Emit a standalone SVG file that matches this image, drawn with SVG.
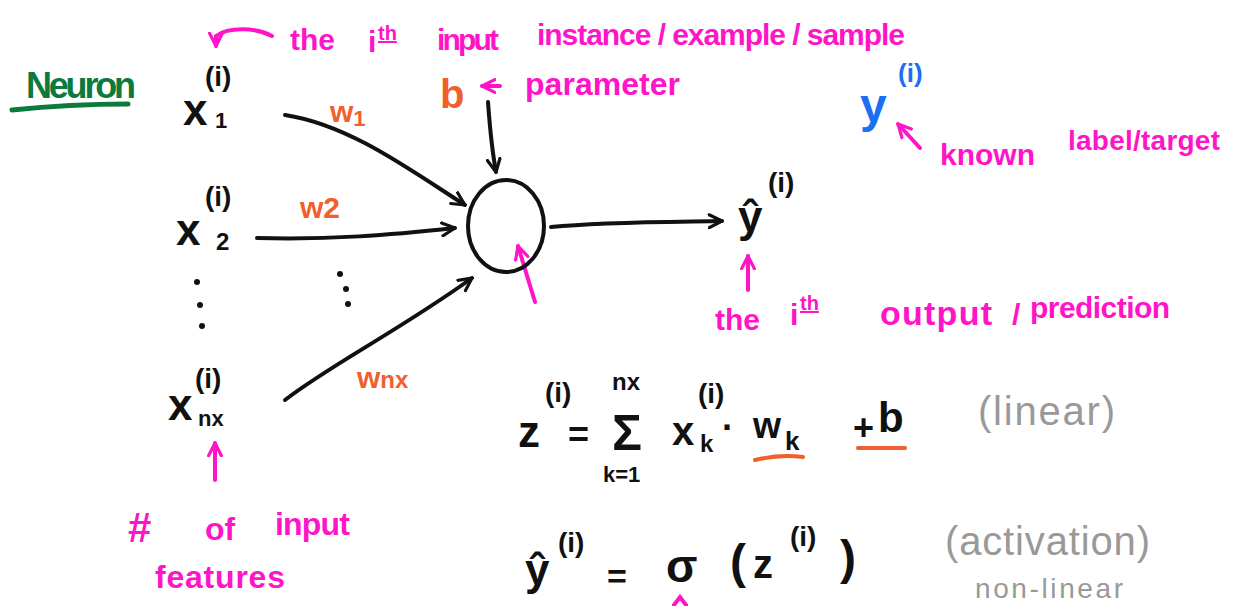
<svg xmlns="http://www.w3.org/2000/svg" width="1238" height="606" viewBox="0 0 1238 606">
<defs>
<style>
text{font-family:"Liberation Sans","DejaVu Sans",sans-serif;font-weight:bold;}
.k{fill:#111;}
.mg{fill:#ff14c8;}
.or{fill:#f0602c;}
.gr{fill:#999;font-weight:normal;}
.bl{fill:#1a70f0;}
.gn{fill:#0b7a3c;}
.ln{fill:none;stroke:#111;stroke-width:4;stroke-linecap:round;}
.lm{fill:none;stroke:#ff14c8;stroke-width:4;stroke-linecap:round;}
.lo{fill:none;stroke:#f0602c;stroke-width:4;stroke-linecap:round;}
</style>
<marker id="ah" viewBox="0 0 10 10" refX="9" refY="5" markerWidth="16" markerHeight="16" markerUnits="userSpaceOnUse" orient="auto">
<path d="M1,1 L9,5 L1,9" fill="none" stroke="#111" stroke-width="2" stroke-linecap="round" stroke-linejoin="round"/>
</marker>
<marker id="am" viewBox="0 0 10 10" refX="9" refY="5" markerWidth="16" markerHeight="16" markerUnits="userSpaceOnUse" orient="auto">
<path d="M1,1 L9,5 L1,9" fill="none" stroke="#ff14c8" stroke-width="2" stroke-linecap="round" stroke-linejoin="round"/>
</marker>
</defs>
<rect width="1238" height="606" fill="#fff"/>

<g id="title">
<text class="gn" x="26" y="98" font-size="36" textLength="110">Neuron</text>
<path d="M12,110 Q70,104 128,104" fill="none" stroke="#0b7a3c" stroke-width="5" stroke-linecap="round"/>
</g>

<g id="connectors">
<path class="ln" d="M285,115 C350,125 410,170 465,205" marker-end="url(#ah)"/>
<path class="ln" d="M257,238 C330,240 390,235 455,228" marker-end="url(#ah)"/>
<path class="ln" d="M285,400 C330,365 400,330 472,278" marker-end="url(#ah)"/>
<path class="ln" d="M488,102 C490,130 492,150 496,172" marker-end="url(#ah)"/>
<path class="ln" d="M551,227 C600,222 660,222 722,221" marker-end="url(#ah)"/>
<path class="lm" d="M535,302 L518,246" marker-end="url(#am)"/>
<path class="lm" d="M272,36 C255,27 228,27 216,36 L216,46" marker-end="url(#am)"/>
<path class="lm" d="M500,86 L482,86" marker-end="url(#am)"/>
<path class="lm" d="M920,148 L898,124" marker-end="url(#am)"/>
<path class="lm" d="M748,290 L748,256" marker-end="url(#am)"/>
<path class="lm" d="M215,480 L215,443" marker-end="url(#am)"/>
<path class="lm" d="M674,605 L680,597 L686,605"/>
</g>

<g id="x1">
<text class="k" x="183" y="125" font-size="44">x</text>
<text class="k" x="215" y="128" font-size="22">1</text>
<text class="k" x="205" y="86" font-size="28">(i)</text>
</g>
<g id="x2">
<text class="k" x="176" y="245" font-size="44">x</text>
<text class="k" x="216" y="250" font-size="24">2</text>
<text class="k" x="205" y="206" font-size="28">(i)</text>
</g>
<g id="dots">
<circle cx="197" cy="282" r="3" fill="#111"/>
<circle cx="200" cy="305" r="3" fill="#111"/>
<circle cx="202" cy="326" r="3" fill="#111"/>
<circle cx="340" cy="274" r="3" fill="#111"/>
<circle cx="346" cy="289" r="3" fill="#111"/>
<circle cx="348" cy="304" r="3" fill="#111"/>
</g>
<g id="xnx">
<text class="k" x="168" y="420" font-size="44">x</text>
<text class="k" x="198" y="426" font-size="22">nx</text>
<text class="k" x="195" y="388" font-size="28">(i)</text>
</g>

<g id="weights">
<text class="or" x="330" y="122" font-size="30">w<tspan font-size="22" dy="4">1</tspan></text>
<text class="or" x="300" y="218" font-size="30">w2</text>
<text class="or" x="357" y="388" font-size="30">w<tspan font-size="24">nx</tspan></text>
</g>

<g id="neuron">
<ellipse cx="506" cy="226" rx="38" ry="46" fill="none" stroke="#111" stroke-width="4"/>
</g>

<g id="bias">
<text class="or" x="440" y="108" font-size="40">b</text>
<text class="mg" x="525" y="95" font-size="32" textLength="155">parameter</text>
</g>

<g id="top-note">
<text class="mg" x="290" y="50" font-size="30">the</text>
<text class="mg" x="368" y="52" font-size="30">i</text>
<text class="mg" x="378" y="40" font-size="20" text-decoration="underline">th</text>
<text class="mg" x="437" y="50" font-size="30" textLength="62">input</text>
<text class="mg" x="537" y="45" font-size="30" textLength="368">instance / example / sample</text>
</g>

<g id="yhat">
<text class="k" x="738" y="232" font-size="44">ŷ</text>
<text class="k" x="768" y="192" font-size="28">(i)</text>
</g>

<g id="ytrue">
<text class="bl" x="860" y="122" font-size="48">y</text>
<text class="bl" x="898" y="82" font-size="26">(i)</text>
<text class="mg" x="940" y="165" font-size="30" textLength="95">known</text>
<text class="mg" x="1068" y="150" font-size="28" textLength="152">label/target</text>
</g>

<g id="output-note">
<text class="mg" x="715" y="330" font-size="30">the</text>
<text class="mg" x="790" y="325" font-size="30">i</text>
<text class="mg" x="800" y="310" font-size="20" text-decoration="underline">th</text>
<text class="mg" x="880" y="325" font-size="34" textLength="112">output</text>
<text class="mg" x="1012" y="325" font-size="30">/</text>
<text class="mg" x="1030" y="318" font-size="30" textLength="140">prediction</text>
</g>

<g id="features-note">
<text class="mg" x="128" y="542" font-size="42">#</text>
<text class="mg" x="205" y="540" font-size="32">of</text>
<text class="mg" x="275" y="535" font-size="32" textLength="75">input</text>
<text class="mg" x="155" y="588" font-size="32" textLength="130">features</text>
</g>

<g id="formula-linear">
<text class="k" x="518" y="447" font-size="44">z</text>
<text class="k" x="545" y="402" font-size="28">(i)</text>
<text class="k" x="568" y="447" font-size="36">=</text>
<text class="k" x="612" y="450" font-size="50">Σ</text>
<text class="k" x="612" y="390" font-size="24">nx</text>
<text class="k" x="603" y="482" font-size="22">k=1</text>
<text class="k" x="672" y="445" font-size="40">x</text>
<text class="k" x="700" y="452" font-size="24">k</text>
<text class="k" x="698" y="403" font-size="28">(i)</text>
<text class="k" x="722" y="440" font-size="36">·</text>
<text class="k" x="753" y="438" font-size="36">w</text>
<text class="k" x="785" y="450" font-size="26">k</text>
<text class="k" x="853" y="440" font-size="36">+</text>
<text class="k" x="878" y="432" font-size="42">b</text>
<path class="lo" d="M755,460 Q780,454 803,457"/>
<path class="lo" d="M858,448 L905,448"/>
<text class="gr" x="978" y="425" font-size="40" textLength="137">(linear)</text>
</g>

<g id="formula-activation">
<text class="k" x="525" y="585" font-size="44">ŷ</text>
<text class="k" x="558" y="552" font-size="28">(i)</text>
<text class="k" x="607" y="588" font-size="34">=</text>
<text class="k" x="666" y="582" font-size="46">σ</text>
<text class="k" x="730" y="578" font-size="48">(</text>
<text class="k" x="753" y="578" font-size="40">z</text>
<text class="k" x="790" y="546" font-size="28">(i)</text>
<text class="k" x="840" y="574" font-size="48">)</text>
<text class="gr" x="945" y="555" font-size="40" textLength="205">(activation)</text>
<text class="gr" x="975" y="598" font-size="28" textLength="148">non-linear</text>
</g>
</svg>
